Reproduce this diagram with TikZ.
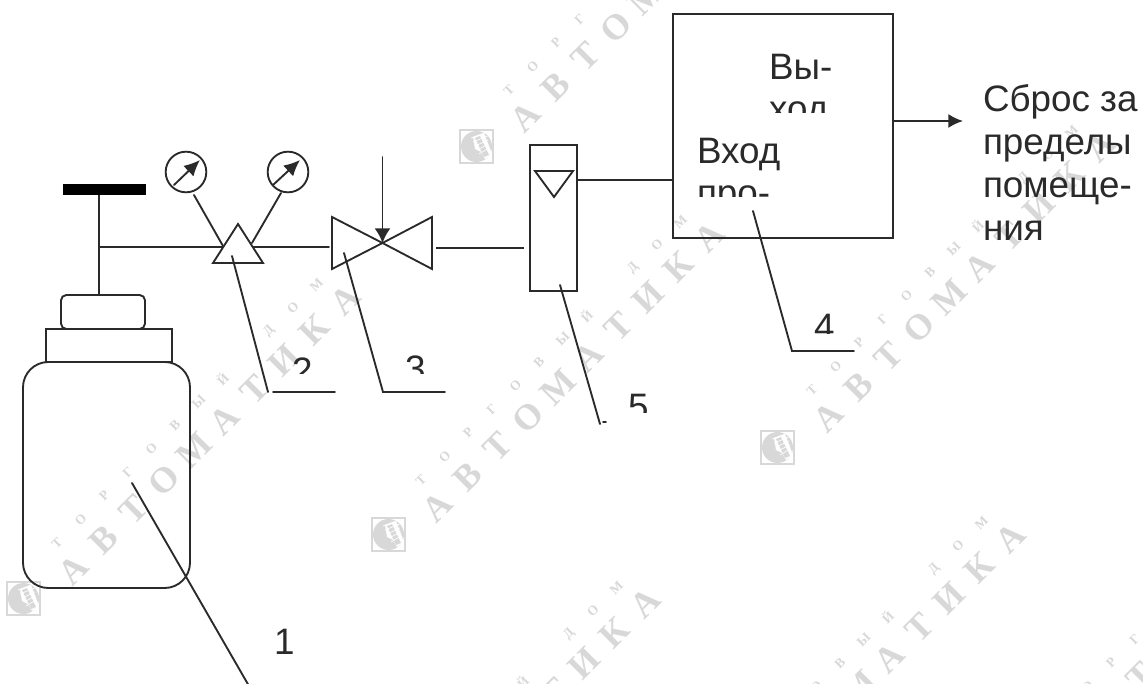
\documentclass[tikz,border=0pt]{standalone}
\usepackage{fontspec}
\setmainfont{Liberation Sans}
\newfontfamily\wmfont{Liberation Serif}[BoldFont={Liberation Serif Bold}]
\usetikzlibrary{arrows.meta}
\definecolor{ink}{HTML}{2A2A2A}
\definecolor{wmgray}{HTML}{D8D8D8}
\tikzset{
  ln/.style={draw=ink,line width=1.4pt,line cap=round,line join=miter},
  thickln/.style={draw=ink,line width=1.9pt},
  shp/.style 2 args={draw=ink,line width=1.4pt,fill=none,inner sep=0pt,outer sep=0pt,
    minimum width=#1*0.75pt,minimum height=#2*0.75pt},
  lbl/.style={anchor=base west,inner sep=0pt,outer sep=0pt,text=ink,font=\fontsize{27.6}{32.25}\selectfont},
  bigwm/.style={rotate=45,text=wmgray,inner sep=0pt,font=\wmfont\bfseries\fontsize{27}{27}\selectfont},
  smallwm/.style={rotate=45,text=wmgray,inner sep=0pt,font=\wmfont\bfseries\fontsize{10}{10}\selectfont},
}
\newcommand{\wmstamp}[2]{%
  \foreach \ch [count=\k from 0] in {А,В,Т,О,М,А,Т,И,К,А}
    \node[bigwm] (wb\k) at ({#1+\k*30.2},{#2-\k*30}) {\ch};
  \foreach \ch [count=\k from 0] in {Т,О,Р,Г,О,В,Ы,Й,{},Д,О,М}
    \node[smallwm] (ws\k) at ({#1-16+\k*23.6},{#2-27-\k*23.5}) {\ch};
}
\newcommand{\wmlogo}[2]{%
  \begin{scope}[shift={(#1,#2)}]
    \draw[wmgray,line width=1pt] (0,0) rectangle (33,33);
    \fill[wmgray] (16.5,16.5) circle[radius=15.5*0.75pt];
    \fill[white] (13,7) -- (24,3) -- (32,24) -- (25,29) -- (21,22) -- (15,19) -- cycle;
    \fill[wmgray] (15,8) -- (20,6) -- (29,25) -- (24,27) -- cycle;
    \foreach \q in {0,1,2,3,4}
      \draw[white,line width=.5pt] ({11+\q*2},{8+\q*4}) -- ({27+\q*0.5},{2+\q*4});
  \end{scope}
}
\begin{document}
\begin{tikzpicture}[x=0.75pt,y=-0.75pt]
\useasboundingbox (0,0) rectangle (1143,684);
\clip (0,0) rectangle (1143,684);
\fill[white] (0,0) rectangle (1143,684);

% watermark
\wmstamp{73}{570}
\wmstamp{437}{507}
\wmstamp{828}{417}
\wmstamp{525}{117}
\wmstamp{373}{873}
\wmstamp{738}{808}
\wmstamp{1080}{737}
\wmlogo{460}{130}
\wmlogo{7}{582}
\wmlogo{372}{518}
\wmlogo{761}{431}

% cylinder
\node[shp={167}{226},rounded corners=19pt] (body) at (106.5,475) {};
\node[shp={126}{33}] (collar) at (109,345.5) {};
\node[shp={84}{34},rounded corners=4pt] (cap) at (103,312) {};
\node[fill=black,inner sep=0pt,outer sep=0pt,minimum width=62.25pt,minimum height=8.25pt] (bar) at (104.5,189.5) {};
\coordinate (stemtop) at (99,195);
\coordinate (stembot) at (99,295);
\coordinate (tee) at (99,247);
\draw[thickln] (stemtop) -- (stembot);

% regulator
\coordinate (r1) at (238,224);
\coordinate (r2) at (213,263);
\coordinate (r3) at (263,263);
\draw[ln] (r1) -- (r2) -- (r3) -- cycle;
\coordinate (rl) at (223,247);
\coordinate (rr) at (253,247);
\draw[ln] (tee) -- (rl);
\draw[thickln] (tee) -- (135,247);

% gauges
\node[draw=ink,line width=1.4pt,circle,inner sep=0pt,minimum size=30.5pt] (g1) at (186,172) {};
\node[draw=ink,line width=1.4pt,circle,inner sep=0pt,minimum size=30.5pt] (g2) at (288,172) {};
\coordinate (g1a) at (174,185); \coordinate (g1b) at (200,160);
\coordinate (g2a) at (273,185); \coordinate (g2b) at (300,160);
\draw[ln,-{Latex[length=12pt,width=11pt]}] (g1a) -- (g1b);
\draw[ln,-{Latex[length=12pt,width=11pt]}] (g2a) -- (g2b);
\coordinate (g1c) at (194,195); \coordinate (g2c) at (281,193);
\coordinate (r1a) at (223,246); \coordinate (r2a) at (252,243);
\draw[ln] (g1c) -- (r1a);
\draw[ln] (g2c) -- (r2a);

% valve
\coordinate (vc) at (382.5,243);
\coordinate (v1) at (332,217); \coordinate (v2) at (332,269);
\coordinate (v3) at (432,217); \coordinate (v4) at (432,269);
\draw[ln] (vc) -- (v1) -- (v2) -- cycle;
\draw[ln] (vc) -- (v3) -- (v4) -- cycle;
\coordinate (vtop) at (382.5,157);
\draw[ln,-{Latex[length=11pt,width=12pt]}] (vtop) -- (vc);
\coordinate (vl) at (329,247);
\draw[ln] (rr) -- (vl);

% rotameter
\node[shp={46.5}{146}] (rot) at (553.5,218) {};
\coordinate (f1) at (535,171); \coordinate (f2) at (573,171); \coordinate (f3) at (554,197);
\draw[ln] (f1) -- (f2) -- (f3) -- cycle;
\coordinate (vr) at (436,248); \coordinate (rotin) at (524,248);
\draw[thickln] (vr) -- (rotin);

% box
\node[shp={220}{224}] (box) at (783,126) {};
\coordinate (rotout) at (577,180); \coordinate (boxin) at (673,180);
\draw[ln] (rotout) -- (boxin);
\coordinate (boxout) at (893,121); \coordinate (outtip) at (963,121);
\draw[ln,-{Latex[length=11pt,width=10.5pt]}] (boxout) -- (outtip);

% leaders
\coordinate (l1a) at (132,483); \coordinate (l1b) at (249,686);
\draw[ln] (l1a) -- (l1b);
\coordinate (l2a) at (232,256); \coordinate (l2b) at (268,392);
\coordinate (l2c) at (273,392); \coordinate (l2d) at (335,392);
\draw[ln] (l2a) -- (l2b); \draw[ln] (l2c) -- (l2d);
\coordinate (l3a) at (344,253); \coordinate (l3b) at (383,392); \coordinate (l3c) at (445,392);
\draw[ln] (l3a) -- (l3b) -- (l3c);
\coordinate (l4a) at (753,211); \coordinate (l4b) at (792,351); \coordinate (l4c) at (854,351);
\draw[ln] (l4a) -- (l4b) -- (l4c);
\coordinate (l5a) at (560,285); \coordinate (l5b) at (600,424);
\coordinate (l5c) at (603,422); \coordinate (l5d) at (606,422);
\draw[ln] (l5a) -- (l5b); \draw[ln] (l5c) -- (l5d);

% labels
\node[lbl] (n1) at (274,654) {1};
\begin{scope}
  \clip (805,300) rectangle (845,334);
  \node[lbl] (n4) at (814,340) {4};
\end{scope}
\begin{scope}
  \clip (280,340) rectangle (340,374);
  \node[lbl] (n2) at (292,383) {2};
\end{scope}
\begin{scope}
  \clip (395,340) rectangle (450,374);
  \node[lbl] (n3) at (405,382) {3};
\end{scope}
\begin{scope}
  \clip (620,380) rectangle (660,412);
  \node[lbl] (n5) at (628,419) {5};
\end{scope}
\begin{scope}
  \clip (760,40) rectangle (880,113);
  \node[lbl] (outl) at (769,80) {Вы-};
  \node[lbl] (outm) at (769,122) {ход};
\end{scope}
\begin{scope}
  \clip (690,125) rectangle (820,197);
  \node[lbl] (inl) at (697,164) {Вход};
  \node[lbl] (inm) at (697,206) {про-};
\end{scope}
\node[lbl] (s1) at (983,112) {Сброс за};
\node[lbl] (s2) at (983,154.5) {пределы};
\node[lbl] (s3) at (983,197.5) {помеще-};
\node[lbl] (s4) at (983,241) {ния};
\end{tikzpicture}
\end{document}
